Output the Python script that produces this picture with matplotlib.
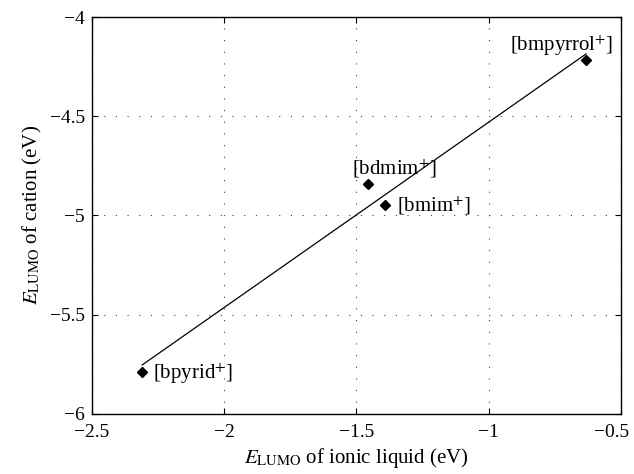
import numpy as np
import matplotlib.pyplot as plt
from matplotlib.transforms import ScaledTranslation

plt.rcParams['font.family'] = ['Liberation Serif', 'DejaVu Serif']
plt.rcParams['mathtext.fontset'] = 'stix'

# LUMO energies (eV)
names = ['[bpyrid$^{+}$]', '[bdmim$^{+}$]', '[bmim$^{+}$]', '[bmpyrrol$^{+}$]']
e_il = [-2.31, -1.458, -1.392, -0.632]
e_cation = [-5.788, -4.841, -4.947, -4.217]

# label offsets in pixels (dx, dy) and alignment
offsets = [(11, -7, 'left'), (-16, 9, 'left'), (12, -7, 'left'), (27, 9, 'right')]

fig = plt.figure(figsize=(6.34, 4.74), dpi=100)
ax = fig.add_axes([0.145, 0.127, 0.8345, 0.837])

# least-squares fit line through the points
k, b = np.polyfit(e_il, e_cation, 1)
xs = np.array([min(e_il), max(e_il)])
ax.plot(xs, k * xs + b, color='black', lw=0.9)

ax.plot(e_il, e_cation, 'D', color='black', markersize=5)

for x, y, name, (dx, dy, ha) in zip(e_il, e_cation, names, offsets):
    ax.annotate(name, (x, y), xytext=(dx, dy), textcoords='offset pixels',
                ha=ha, va='baseline', fontsize=15)

ax.set_xlim(-2.5, -0.5)
ax.set_ylim(-6, -4)
ax.set_xticks([-2.5, -2, -1.5, -1, -0.5])
ax.set_yticks([-6, -5.5, -5, -4.5, -4])
ax.set_xticklabels(['\u22122.5', '\u22122', '\u22121.5', '\u22121', '\u22120.5'])
ax.set_yticklabels(['\u22126', '\u22125.5', '\u22125', '\u22124.5', '\u22124'])
ax.tick_params(direction='in', top=True, right=True, labelsize=14, length=4, width=0.8)
ax.tick_params(axis='x', pad=7)
ax.tick_params(axis='y', pad=5)
ax.grid(True, linestyle=(0, (1, 9.5)), color='#444444', lw=0.8)
for s in ax.spines.values():
    s.set_linewidth(1.0)

# keep the last x tick label inside the figure, like the original
last = ax.get_xticklabels()[-1]
last.set_transform(last.get_transform() + ScaledTranslation(-9 / 100, 0, fig.dpi_scale_trans))

ax.set_xlabel('$E_{\\mathrm{LUMO}}$ of ionic liquid (eV)', fontsize=15, labelpad=4)
ax.set_ylabel('$E_{\\mathrm{LUMO}}$ of cation (eV)', fontsize=15, labelpad=4)

fig.savefig('out.png', dpi=100)
